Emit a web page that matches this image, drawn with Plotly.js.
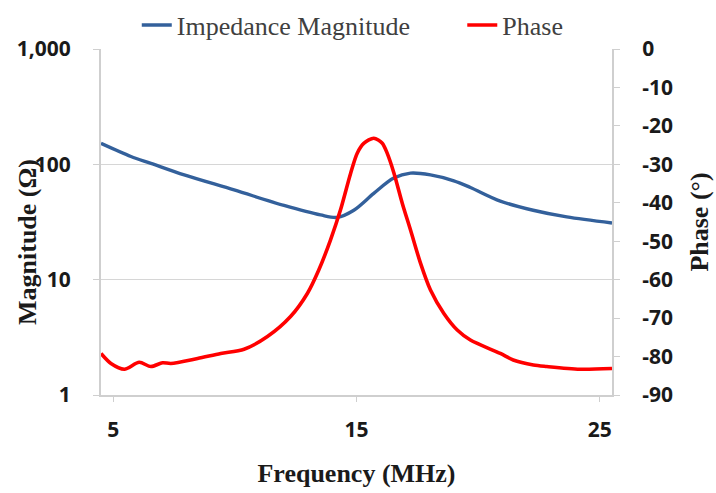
<!DOCTYPE html>
<html>
<head>
<meta charset="utf-8">
<script src="https://cdn.plot.ly/plotly-3.0.1.min.js"></script>
<style>
html,body{margin:0;padding:0;background:#fff;}
#chart{width:716px;height:493px;}
</style>
</head>
<body>
<div id="chart"></div>
<script>
// Frequency (MHz) and impedance magnitude (Ohm)
const magFreq = [4.5, 5.73, 6.55, 7.92, 9.97, 12.02, 13.52, 14.21, 14.89, 15.71, 16.53, 17.22, 18.04, 19.0, 19.68, 20.91, 22.26, 23.64, 25.5];
const magValue = [152, 117, 102, 81, 60, 44, 36.4, 34.7, 40, 56, 76, 84, 81, 72, 63, 48, 40, 35, 31];

// Frequency (MHz) and phase (degrees)
const phaseFreq = [4.5, 4.91, 5.46, 6.07, 6.55, 7.03, 7.37, 8.47, 9.42, 10.38, 11.34, 12.29, 12.98, 13.45, 13.93, 14.34, 14.76, 15.03, 15.31, 15.71, 16.06, 16.26, 16.54, 16.88, 17.22, 17.63, 18.04, 18.59, 19.14, 19.68, 20.91, 21.44, 22.27, 22.82, 24.18, 25.5];
const phaseValue = [-79.2, -81.8, -83.3, -81.5, -82.6, -81.6, -81.8, -80.5, -79.2, -78.1, -74.8, -69.6, -63.6, -57.5, -49.7, -41.9, -32.3, -27.1, -24.5, -23.2, -24.5, -27.1, -32.3, -40.1, -47.1, -55.7, -62.7, -68.8, -73.1, -75.7, -79.2, -80.9, -82.2, -82.6, -83.3, -83.1];

const xTicks = [5, 15, 25];
const magTicks = [1, 10, 100, 1000];
const magTickText = ['1', '10', '100', '1,000'];
const phaseTicks = [0, -10, -20, -30, -40, -50, -60, -70, -80, -90];
const phaseTickText = ['0', '-10', '-20', '-30', '-40', '-50', '-60', '-70', '-80', '-90'];

const tickFont = {family: 'Open Sans, Liberation Sans, sans-serif', size: 21, color: '#1a1a1a', weight: 'bold'};
const titleFont = {family: 'Liberation Serif, DejaVu Serif, serif', size: 26, color: '#1a1a1a', weight: 'bold'};
const legendFont = {family: 'Liberation Serif, DejaVu Serif, serif', size: 26, color: '#404040'};

const traces = [
  {x: magFreq, y: magValue, name: 'Impedance Magnitude', type: 'scatter', mode: 'lines',
   line: {color: '#33609b', width: 3.4, shape: 'spline', smoothing: 0.9}, yaxis: 'y', legend: 'legend'},
  {x: phaseFreq, y: phaseValue, name: 'Phase', type: 'scatter', mode: 'lines',
   line: {color: '#ff0000', width: 3.6, shape: 'spline', smoothing: 0.8}, yaxis: 'y2', legend: 'legend2'}
];

const layout = {
  width: 716, height: 493,
  margin: {l: 101, r: 104, t: 49, b: 98, autoexpand: false},
  paper_bgcolor: '#ffffff', plot_bgcolor: '#ffffff',
  showlegend: true,
  legend: {orientation: 'h', x: 0.07, xanchor: 'left', y: 1.069, yanchor: 'middle',
           font: legendFont, bgcolor: 'rgba(0,0,0,0)'},
  legend2: {orientation: 'h', x: 0.707, xanchor: 'left', y: 1.069, yanchor: 'middle',
            font: legendFont, bgcolor: 'rgba(0,0,0,0)'},
  xaxis: {range: [4.5, 25.5], tickvals: xTicks, ticks: 'outside', ticklen: 5, tickcolor: '#cfcfcf',
          ticklabelstandoff: 10,
          showline: true, linecolor: '#cfcfcf', linewidth: 2, showgrid: false, zeroline: false,
          tickfont: tickFont,
          title: {text: 'Frequency (MHz)', font: titleFont, standoff: 22}},
  yaxis: {type: 'log', range: [0, 3], tickvals: magTicks, ticktext: magTickText,
          ticks: 'outside', ticklen: 6, tickcolor: '#cfcfcf', ticklabelstandoff: 18,
          showline: true, linecolor: '#cfcfcf', linewidth: 2,
          showgrid: true, gridcolor: '#d6d6d6', gridwidth: 1.6, zeroline: false,
          tickfont: tickFont},
  yaxis2: {overlaying: 'y', side: 'right', range: [-90, 0], tickvals: phaseTicks, ticktext: phaseTickText,
           ticks: 'outside', ticklen: 6, tickcolor: '#cfcfcf', ticklabelstandoff: 18,
           showline: true, linecolor: '#cfcfcf', linewidth: 2,
           showgrid: false, zeroline: false, tickfont: tickFont,
           title: {text: 'Phase (°)', font: titleFont, standoff: 18}},
  annotations: [
    {text: 'Magnitude (Ω)', xref: 'paper', yref: 'paper', x: -0.145, y: 0.442,
     xanchor: 'center', yanchor: 'middle', textangle: -90, showarrow: false, font: titleFont}
  ]
};

Plotly.newPlot('chart', traces, layout, {displayModeBar: false, staticPlot: true});
</script>
</body>
</html>
